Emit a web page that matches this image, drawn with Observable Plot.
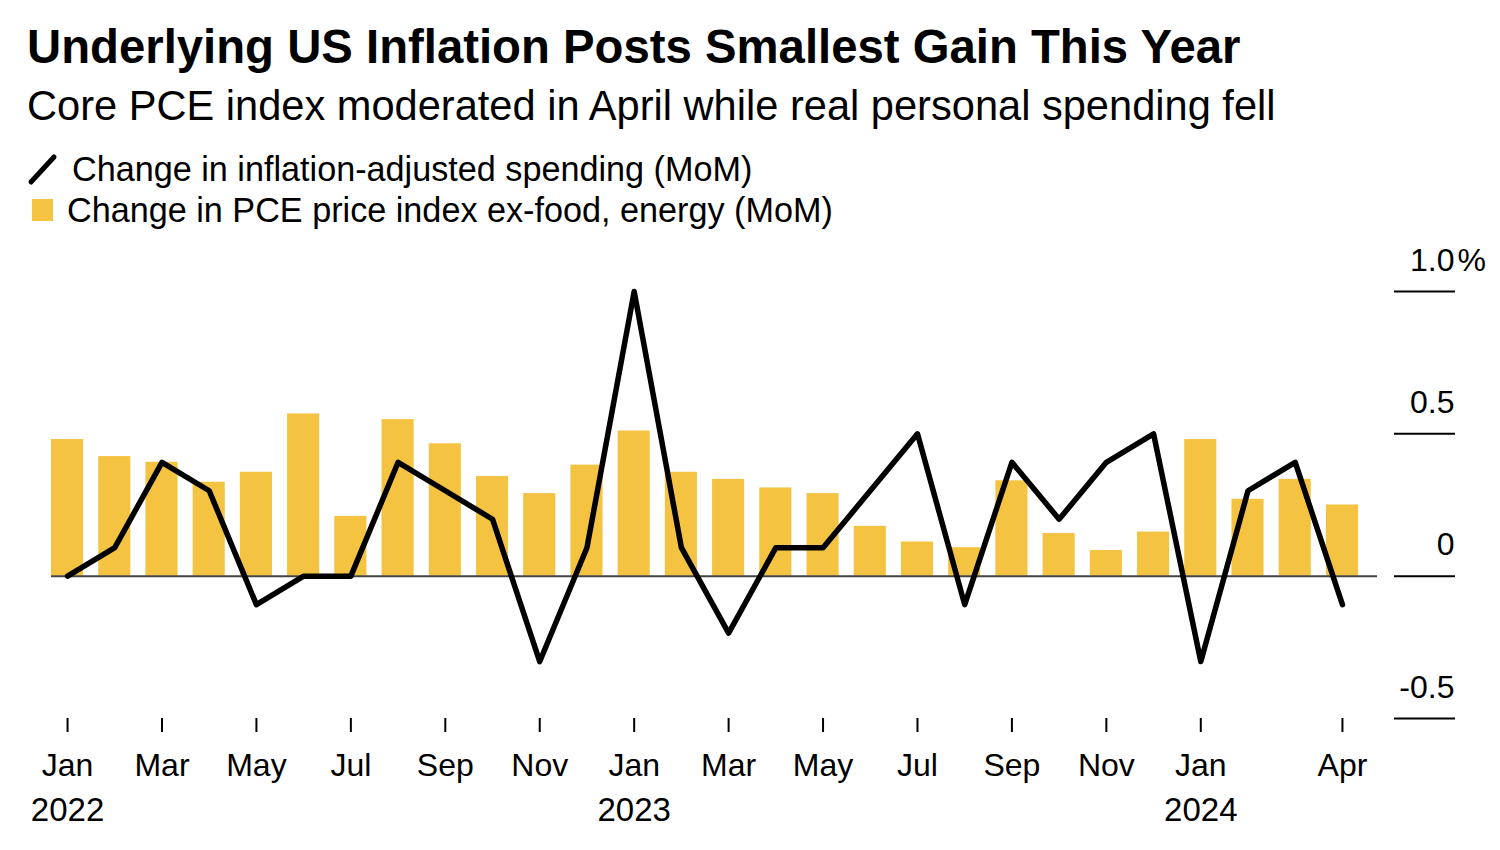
<!DOCTYPE html>
<html>
<head>
<meta charset="utf-8">
<script src="https://cdn.jsdelivr.net/npm/d3@7"></script>
<script src="https://cdn.jsdelivr.net/npm/@observablehq/plot@0.6"></script>
<style>
  html, body { margin: 0; padding: 0; background: #fff; }
  body { width: 1500px; height: 850px; position: relative; overflow: hidden; font-family: "Liberation Sans", Arial, sans-serif; color: #000; }
  .t { position: absolute; white-space: nowrap; line-height: 1; }
  #title { left: 27px; top: 23px; font-size: 47.3px; font-weight: 700; }
  #subtitle { left: 27px; top: 85px; font-size: 41.6px; }
  .leg { left: 27px; font-size: 34.2px; display: flex; align-items: center; }
  #leg1 { top: 152px; }
  #leg2 { top: 193px; }
  .sw { display: inline-block; }
  #chart { position: absolute; left: 0; top: 240px; }
</style>
</head>
<body>
<div id="title" class="t">Underlying US Inflation Posts Smallest Gain This Year</div>
<div id="subtitle" class="t">Core PCE index moderated in April while real personal spending fell</div>
<div id="leg1" class="t leg"><svg class="sw" width="45" height="34"><line x1="4" y1="30" x2="27" y2="5" stroke="#000" stroke-width="5" stroke-linecap="round"/></svg><span>Change in inflation-adjusted spending (MoM)</span></div>
<div id="leg2" class="t leg"><svg class="sw" width="40" height="34"><rect x="5" y="6" width="21" height="22" fill="#F5C342"/></svg><span>Change in PCE price index ex-food, energy (MoM)</span></div>
<div id="chart"></div>
<script>
// Months (Jan 2022 – Apr 2024)
const months = [
  "2022-01","2022-02","2022-03","2022-04","2022-05","2022-06","2022-07","2022-08","2022-09","2022-10","2022-11","2022-12",
  "2023-01","2023-02","2023-03","2023-04","2023-05","2023-06","2023-07","2023-08","2023-09","2023-10","2023-11","2023-12",
  "2024-01","2024-02","2024-03","2024-04"
];
// Change in PCE price index ex-food, energy (MoM, %)
const corePCE = [
  0.48, 0.42, 0.40, 0.33, 0.365, 0.57, 0.21, 0.55, 0.465, 0.35, 0.29, 0.39,
  0.51, 0.365, 0.34, 0.31, 0.29, 0.175, 0.12, 0.10, 0.335, 0.15, 0.09, 0.155,
  0.48, 0.27, 0.34, 0.25
];
// Change in inflation-adjusted spending (MoM, %)
const realSpending = [
  0.0, 0.1, 0.4, 0.3, -0.1, 0.0, 0.0, 0.4, 0.3, 0.2, -0.3, 0.1,
  1.0, 0.1, -0.2, 0.1, 0.1, 0.3, 0.5, -0.1, 0.4, 0.2, 0.4, 0.5,
  -0.3, 0.3, 0.4, -0.1
];
// Axis ticks
const xTickMonths = ["2022-01","2022-03","2022-05","2022-07","2022-09","2022-11","2023-01","2023-03","2023-05","2023-07","2023-09","2023-11","2024-01","2024-04"];
const monthNames = ["Jan","Feb","Mar","Apr","May","Jun","Jul","Aug","Sep","Oct","Nov","Dec"];
const yearLabels = [{m: "2022-01", year: "2022"}, {m: "2023-01", year: "2023"}, {m: "2024-01", year: "2024"}];
const yTicks = [-0.5, 0, 0.5, 1.0];
const yTickLabels = ["-0.5", "0", "0.5", "1.0"];

const data = months.map((m, i) => ({month: m, core: corePCE[i], spend: realSpending[i]}));
const FONT = "'Liberation Sans', Arial, sans-serif";

const chart = Plot.plot({
  width: 1500,
  height: 610,
  marginTop: 51,
  marginBottom: 132,
  marginLeft: 51,
  marginRight: 142,
  style: {fontFamily: FONT, fontSize: "32px", color: "#000", background: "transparent", overflow: "visible"},
  x: {type: "band", domain: months, paddingInner: 0.32, paddingOuter: 0, align: 0.5, round: false, label: null},
  y: {domain: [-0.5, 1.0], label: null},
  marks: [
    Plot.barY(data, {x: "month", y: "core", fill: "#F5C342"}),
    Plot.ruleY([0], {stroke: "#444", strokeWidth: 2, insetRight: -19}),
    Plot.lineY(data, {x: "month", y: "spend", stroke: "#000", strokeWidth: 5.5}),
    // right y-axis: short rules
    Plot.axisY({anchor: "right", ticks: yTicks, tickSize: 61, dx: 35, strokeWidth: 2, stroke: "#000", tickFormat: () => "", label: null}),
    // right y-axis: labels above rules
    Plot.axisY({anchor: "right", ticks: yTicks, tickSize: 0, tickPadding: 0, dx: 96, dy: -21,
      textAnchor: "end", lineAnchor: "bottom", fontSize: 32, fill: "#000",
      tickFormat: d => yTickLabels[yTicks.indexOf(d)], label: null}),
    Plot.text([1.0], {y: d => d, frameAnchor: "right", dx: 99, dy: -21, textAnchor: "start", lineAnchor: "bottom", text: () => "%", fontSize: 32, fill: "#000"}),
    // x axis
    Plot.axisX({ticks: xTickMonths, tickSize: 14, tickPadding: 21, strokeWidth: 2, stroke: "#000", fontSize: 32, fill: "#000",
      tickFormat: m => monthNames[+m.slice(5) - 1], label: null}),
    Plot.text(yearLabels, {x: "m", text: "year", frameAnchor: "bottom", lineAnchor: "bottom", dy: 102, fontSize: 33, fill: "#000"})
  ]
});
document.getElementById("chart").appendChild(chart);
</script>
</body>
</html>
